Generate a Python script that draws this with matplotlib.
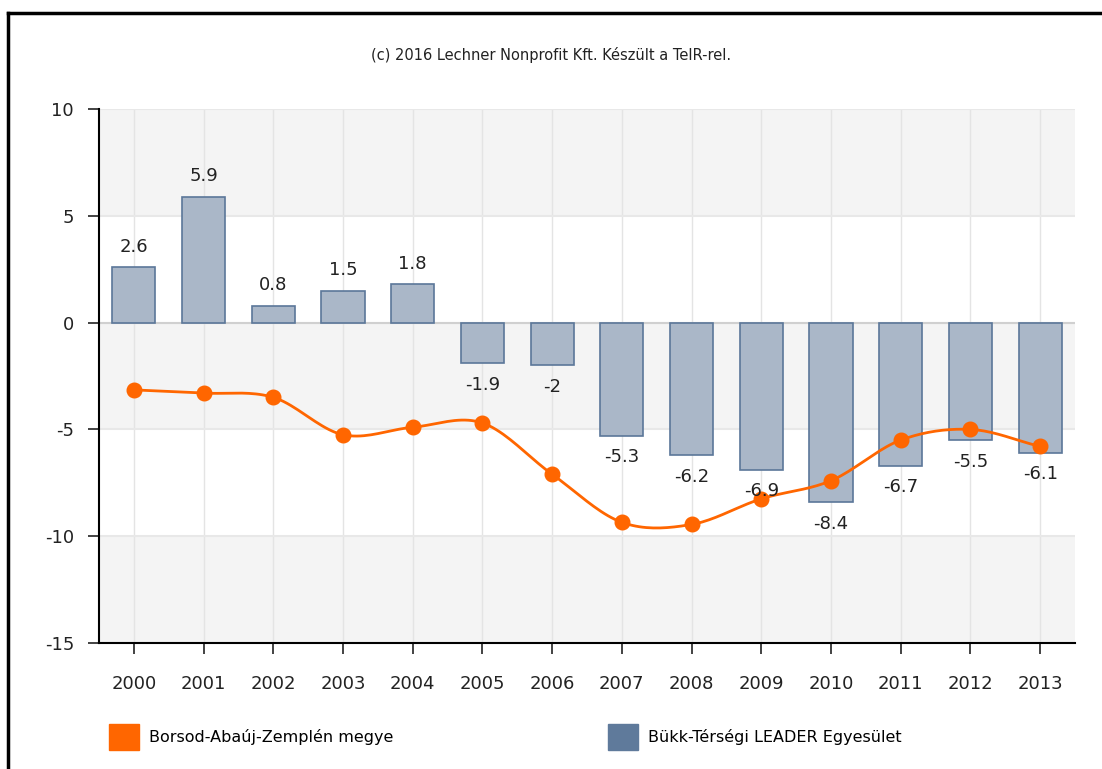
import numpy as np
import matplotlib
matplotlib.use("Agg")
import matplotlib.pyplot as plt
from matplotlib.lines import Line2D
from matplotlib.patches import Rectangle

plt.rcParams["axes.unicode_minus"] = False

# Data
years = ["2000", "2001", "2002", "2003", "2004", "2005", "2006",
         "2007", "2008", "2009", "2010", "2011", "2012", "2013"]
leader_values = [2.6, 5.9, 0.8, 1.5, 1.8, -1.9, -2, -5.3, -6.2, -6.9, -8.4, -6.7, -5.5, -6.1]
county_values = [-3.15, -3.3, -3.5, -5.25, -4.9, -4.7, -7.1, -9.35, -9.45, -8.25, -7.4, -5.5, -5.0, -5.8]
yticks = [10, 5, 0, -5, -10, -15]

series_names = ["Borsod-Abaúj-Zemplén megye", "Bükk-Térségi LEADER Egyesület"]
credit = "(c) 2016 Lechner Nonprofit Kft. Készült a TeIR-rel."

orange = "#ff6600"
bar_fill = "#aab7c8"
bar_edge = "#5b7799"


def catmull_rom(x, y, n=20):
    # smooth curve through the points, for drawing only
    x = np.asarray(x, float)
    y = np.asarray(y, float)
    px = np.concatenate([[2 * x[0] - x[1]], x, [2 * x[-1] - x[-2]]])
    py = np.concatenate([[2 * y[0] - y[1]], y, [2 * y[-1] - y[-2]]])
    xs, ys = [], []
    t = np.linspace(0, 1, n, endpoint=False)
    for i in range(1, len(px) - 2):
        for p, out in ((px, xs), (py, ys)):
            p0, p1, p2, p3 = p[i - 1], p[i], p[i + 1], p[i + 2]
            out.extend(0.5 * ((2 * p1) + (-p0 + p2) * t
                              + (2 * p0 - 5 * p1 + 4 * p2 - p3) * t ** 2
                              + (-p0 + 3 * p1 - 3 * p2 + p3) * t ** 3))
    xs.append(x[-1])
    ys.append(y[-1])
    return np.array(xs), np.array(ys)


fig = plt.figure(figsize=(11.02, 7.69), dpi=100)
W, H = 1102, 769
ax = fig.add_axes([99 / W, 1 - 643 / H, (1075 - 99) / W, (643 - 109) / H])

x = np.arange(len(years))
ax.set_xlim(-0.5, len(years) - 0.5)
ax.set_ylim(-15, 10)

# alternating background bands
for i, (hi, lo) in enumerate(zip(yticks[:-1], yticks[1:])):
    if i % 2 == 0:
        ax.axhspan(lo, hi, color="#f4f4f4", zorder=0, lw=0)
for xi in x:
    ax.axvline(xi, color="#e4e4e4", lw=1, zorder=0.5)
for yv in yticks:
    ax.axhline(yv, color="#e8e8e8", lw=1.5, zorder=0.6)
ax.axhline(0, color="#d0d0d0", lw=1.5, zorder=0.7)

ax.bar(x, leader_values, width=0.62, color=bar_fill, edgecolor=bar_edge,
       linewidth=1.2, zorder=2)

for xi, v in zip(x, leader_values):
    label = f"{v:g}"
    if v >= 0:
        ax.annotate(label, (xi, v), xytext=(0, 8), textcoords="offset points",
                    ha="center", va="bottom", fontsize=13, color="#222222", zorder=5)
    else:
        ax.annotate(label, (xi, v), xytext=(0, -9), textcoords="offset points",
                    ha="center", va="top", fontsize=13, color="#222222", zorder=5)

sx, sy = catmull_rom(x, county_values)
ax.plot(sx, sy, color=orange, lw=2, zorder=3)
ax.plot(x, county_values, "o", color=orange, ms=10.5, zorder=4)

ax.set_xticks(x)
ax.set_xticklabels(years)
ax.set_yticks(yticks)
ax.tick_params(axis="x", length=8, width=1.2, pad=15, labelsize=13, colors="#222222")
ax.tick_params(axis="y", length=8, width=1.2, pad=10, labelsize=13, colors="#222222")
for s in ["top", "right"]:
    ax.spines[s].set_visible(False)
ax.spines["left"].set_linewidth(1.5)
ax.spines["bottom"].set_linewidth(1.5)

fig.text(0.5, 1 - 55 / H, credit, ha="center", va="center", fontsize=10.5, color="#222222")

# legend, one entry each, placed like the reference
legend_colors = [orange, "#5f7a9b"]
legend_x = [104, 603]
for name, col, lx in zip(series_names, legend_colors, legend_x):
    fig.legend([Rectangle((0, 0), 1, 1, color=col)], [name], loc="center left",
               bbox_to_anchor=(lx / W, 1 - 737 / H), frameon=False, fontsize=11.5,
               handlelength=1.9, handleheight=2.2, handletextpad=0.6,
               borderaxespad=0, borderpad=0.3)

# outer frame
fig.add_artist(Line2D([8 / W, 1], [1 - 13 / H, 1 - 13 / H], transform=fig.transFigure,
                      color="black", lw=2.5))
fig.add_artist(Line2D([8 / W, 8 / W], [0, 1 - 13 / H], transform=fig.transFigure,
                      color="black", lw=2.5))

fig.savefig("out.png", dpi=100)
